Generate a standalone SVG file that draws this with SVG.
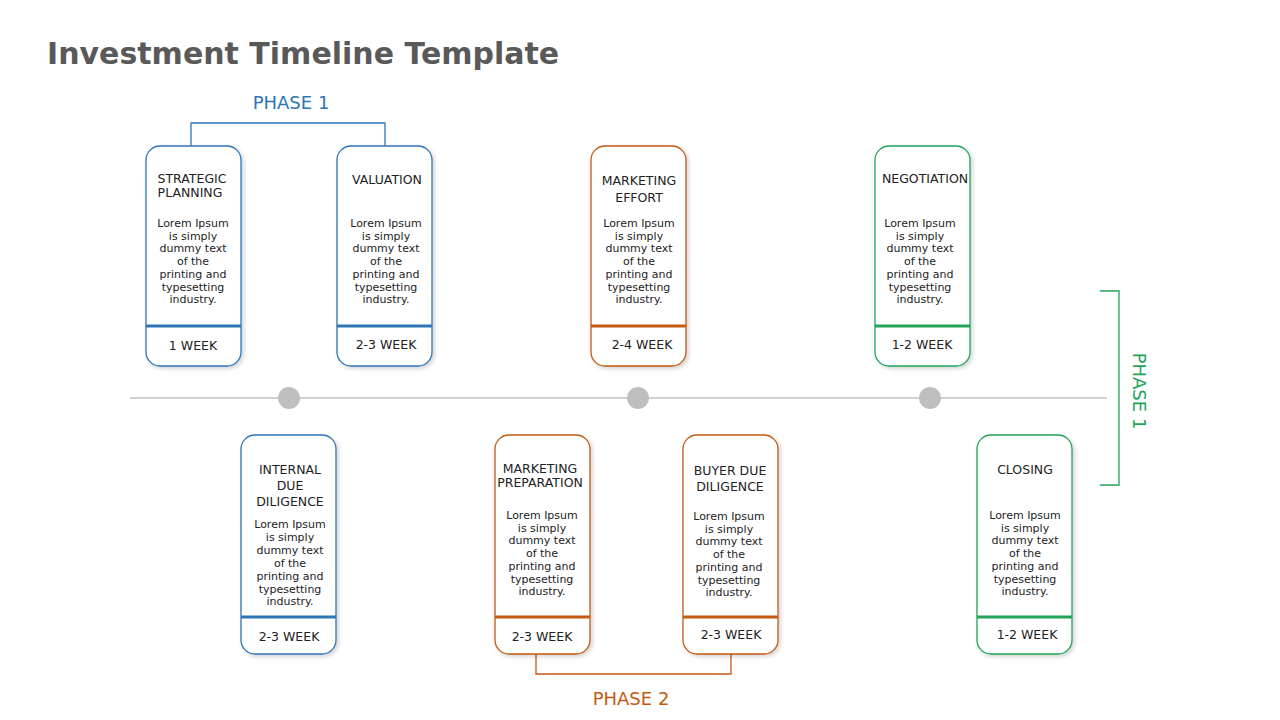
<svg xmlns="http://www.w3.org/2000/svg" width="1280" height="720" viewBox="0 0 1280 720">
<defs>
<filter id="sh" x="-20%" y="-10%" width="140%" height="130%"><feDropShadow dx="2" dy="2" stdDeviation="2" flood-color="#000" flood-opacity="0.18"/></filter>
</defs>
<style>
text{font-family:"DejaVu Sans","Liberation Sans",sans-serif;fill:#222;text-anchor:middle}
.t{font-size:12.5px}
.b{font-size:11px}
.w{font-size:12.5px}
.card{fill:#fff;stroke-width:1.3;filter:url(#sh)}
.blue{stroke:#2e75b6}.orange{stroke:#c55a11}.green{stroke:#21a35a}
.div{stroke-width:3}
.br{fill:none;stroke-width:1.3}
</style>
<rect width="1280" height="720" fill="#fff"/>
<text x="47" y="64" style="font-family:'DejaVu Sans',sans-serif;font-size:30px;font-weight:bold;fill:#595959;text-anchor:start">Investment Timeline Template</text>
<g id="connectors">
<line x1="130" y1="398" x2="1107" y2="398" stroke="#d0d0d0" stroke-width="2"/>
<circle cx="289" cy="398" r="11" fill="#bfbfbf"/>
<circle cx="638" cy="398" r="11" fill="#bfbfbf"/>
<circle cx="930" cy="398" r="11" fill="#bfbfbf"/>
<path class="br blue" d="M191,146V123H385V146"/>
<path class="br orange" d="M536,654V674H731V654"/>
<path class="br green" d="M1100,291H1119V485H1100"/>
</g>
<text x="291" y="109" style="font-size:18px;fill:#2e75b6">PHASE 1</text>
<text x="631" y="705" style="font-size:18px;fill:#c55a11">PHASE 2</text>
<text transform="translate(1133,391) rotate(90)" style="font-size:18px;fill:#21a35a">PHASE 1</text>

<g id="n1"><rect class="card blue" x="146" y="146" width="95" height="220" rx="14"/><line class="div blue" x1="146" y1="326" x2="241" y2="326"/>
<text class="t" x="192" y="183">STRATEGIC</text><text class="t" x="190" y="197">PLANNING</text>
<text class="b"><tspan x="193" y="227">Lorem Ipsum</tspan><tspan x="193" y="240">is simply</tspan><tspan x="193" y="252">dummy text</tspan><tspan x="193" y="265">of the</tspan><tspan x="193" y="278">printing and</tspan><tspan x="193" y="291">typesetting</tspan><tspan x="193" y="303">industry.</tspan></text>
<text class="w" x="193" y="350">1 WEEK</text></g>

<g id="n2"><rect class="card blue" x="337" y="146" width="95" height="220" rx="14"/><line class="div blue" x1="337" y1="326" x2="432" y2="326"/>
<text class="t" x="387" y="184">VALUATION</text>
<text class="b"><tspan x="386" y="227">Lorem Ipsum</tspan><tspan x="386" y="240">is simply</tspan><tspan x="386" y="252">dummy text</tspan><tspan x="386" y="265">of the</tspan><tspan x="386" y="278">printing and</tspan><tspan x="386" y="291">typesetting</tspan><tspan x="386" y="303">industry.</tspan></text>
<text class="w" x="386" y="349">2-3 WEEK</text></g>

<g id="n3"><rect class="card orange" x="591" y="146" width="95" height="220" rx="14"/><line class="div orange" x1="591" y1="326" x2="686" y2="326"/>
<text class="t" x="639" y="185">MARKETING</text><text class="t" x="639" y="202">EFFORT</text>
<text class="b"><tspan x="639" y="227">Lorem Ipsum</tspan><tspan x="639" y="240">is simply</tspan><tspan x="639" y="252">dummy text</tspan><tspan x="639" y="265">of the</tspan><tspan x="639" y="278">printing and</tspan><tspan x="639" y="291">typesetting</tspan><tspan x="639" y="303">industry.</tspan></text>
<text class="w" x="642" y="349">2-4 WEEK</text></g>

<g id="n4"><rect class="card green" x="875" y="146" width="95" height="220" rx="14"/><line class="div green" x1="875" y1="326" x2="970" y2="326"/>
<text class="t" x="925" y="183">NEGOTIATION</text>
<text class="b"><tspan x="920" y="227">Lorem Ipsum</tspan><tspan x="920" y="240">is simply</tspan><tspan x="920" y="252">dummy text</tspan><tspan x="920" y="265">of the</tspan><tspan x="920" y="278">printing and</tspan><tspan x="920" y="291">typesetting</tspan><tspan x="920" y="303">industry.</tspan></text>
<text class="w" x="922" y="349">1-2 WEEK</text></g>

<g id="n5"><rect class="card blue" x="241" y="435" width="95" height="219" rx="14"/><line class="div blue" x1="241" y1="617" x2="336" y2="617"/>
<text class="t" x="290" y="474">INTERNAL</text><text class="t" x="290" y="490">DUE</text><text class="t" x="290" y="506">DILIGENCE</text>
<text class="b"><tspan x="290" y="528">Lorem Ipsum</tspan><tspan x="290" y="541">is simply</tspan><tspan x="290" y="554">dummy text</tspan><tspan x="290" y="567">of the</tspan><tspan x="290" y="580">printing and</tspan><tspan x="290" y="593">typesetting</tspan><tspan x="290" y="605">industry.</tspan></text>
<text class="w" x="289" y="641">2-3 WEEK</text></g>

<g id="n6"><rect class="card orange" x="495" y="435" width="95" height="219" rx="14"/><line class="div orange" x1="495" y1="617" x2="590" y2="617"/>
<text class="t" x="540" y="473">MARKETING</text><text class="t" x="540" y="487">PREPARATION</text>
<text class="b"><tspan x="542" y="519">Lorem Ipsum</tspan><tspan x="542" y="532">is simply</tspan><tspan x="542" y="544">dummy text</tspan><tspan x="542" y="557">of the</tspan><tspan x="542" y="570">printing and</tspan><tspan x="542" y="583">typesetting</tspan><tspan x="542" y="595">industry.</tspan></text>
<text class="w" x="542" y="641">2-3 WEEK</text></g>

<g id="n7"><rect class="card orange" x="683" y="435" width="95" height="219" rx="14"/><line class="div orange" x1="683" y1="617" x2="778" y2="617"/>
<text class="t" x="730" y="475">BUYER  DUE</text><text class="t" x="730" y="491">DILIGENCE</text>
<text class="b"><tspan x="729" y="520">Lorem Ipsum</tspan><tspan x="729" y="533">is simply</tspan><tspan x="729" y="545">dummy text</tspan><tspan x="729" y="558">of the</tspan><tspan x="729" y="571">printing and</tspan><tspan x="729" y="584">typesetting</tspan><tspan x="729" y="596">industry.</tspan></text>
<text class="w" x="731" y="639">2-3 WEEK</text></g>

<g id="n8"><rect class="card green" x="977" y="435" width="95" height="219" rx="14"/><line class="div green" x1="977" y1="617" x2="1072" y2="617"/>
<text class="t" x="1025" y="474">CLOSING</text>
<text class="b"><tspan x="1025" y="519">Lorem Ipsum</tspan><tspan x="1025" y="532">is simply</tspan><tspan x="1025" y="544">dummy text</tspan><tspan x="1025" y="557">of the</tspan><tspan x="1025" y="570">printing and</tspan><tspan x="1025" y="583">typesetting</tspan><tspan x="1025" y="595">industry.</tspan></text>
<text class="w" x="1027" y="639">1-2 WEEK</text></g>
</svg>
